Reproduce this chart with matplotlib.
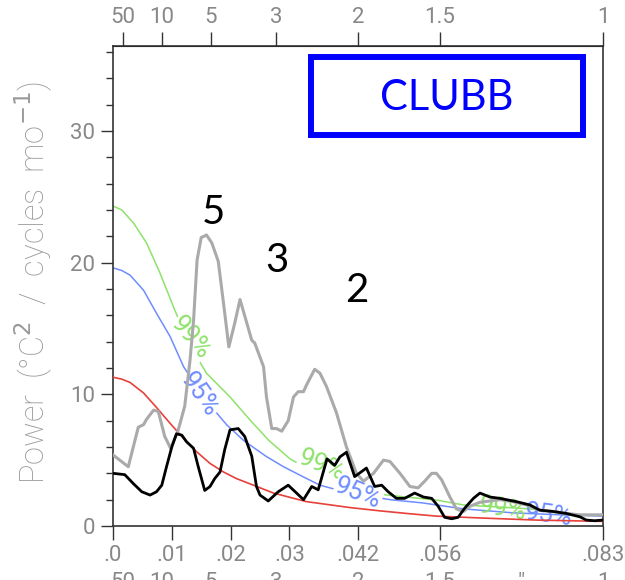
import matplotlib.pyplot as plt
from matplotlib.patches import Rectangle

# frequency (cycles/mo) and power readings
obs_freq = [0.0, 0.002, 0.0035, 0.0049, 0.0063, 0.0074, 0.0083, 0.0091, 0.01, 0.0108,
            0.0117, 0.0125, 0.0137, 0.0145, 0.0156, 0.0165, 0.0173, 0.0182, 0.019, 0.0199,
            0.0213, 0.0224, 0.0236, 0.0244, 0.025, 0.0264, 0.0281, 0.0298, 0.0324, 0.0338,
            0.0349, 0.0364, 0.0377, 0.0386, 0.0397, 0.0411, 0.0431, 0.0445, 0.0457, 0.0468,
            0.0482, 0.0496, 0.0513, 0.0528, 0.0542, 0.0553, 0.0564, 0.0576, 0.0587, 0.0598,
            0.0613, 0.0624, 0.0641, 0.0658, 0.0669, 0.0686, 0.0709, 0.0726, 0.0749, 0.0771,
            0.0794, 0.0805, 0.0819, 0.0833]
obs_power = [4.0, 3.9, 3.2, 2.6, 2.35, 2.6, 3.1, 4.5, 6.0, 7.0,
             6.9, 6.4, 5.9, 4.5, 2.7, 3.0, 3.6, 4.1, 5.8, 7.3,
             7.4, 6.8, 5.3, 3.0, 2.35, 1.9, 2.6, 3.1, 2.0, 3.0,
             2.75, 5.1, 4.6, 5.25, 5.6, 3.75, 4.4, 3.0, 3.1, 2.6,
             2.1, 2.1, 2.5, 2.2, 2.1, 1.5, 0.66, 0.55, 0.66, 1.35,
             2.1, 2.5, 2.2, 2.1, 2.0, 1.85, 1.6, 1.2, 1.1, 0.95,
             0.7, 0.45, 0.4, 0.45]

clubb_freq = [0.0, 0.0026, 0.0043, 0.0052, 0.0057, 0.0069, 0.0077, 0.0088, 0.0098, 0.0111,
              0.0122, 0.0131, 0.0137, 0.0143, 0.0150, 0.0159, 0.0168, 0.0179, 0.0188, 0.0197,
              0.0207, 0.0216, 0.0236, 0.0241, 0.0256, 0.0261, 0.027, 0.0278, 0.0287, 0.0298,
              0.0307, 0.0315, 0.0324, 0.0329, 0.0343, 0.0352, 0.0363, 0.038, 0.0397, 0.0414,
              0.0426, 0.0443, 0.046, 0.0471, 0.0488, 0.0505, 0.0519, 0.053, 0.0542, 0.055,
              0.0559, 0.0573, 0.0584, 0.0596, 0.0607, 0.0624, 0.0658, 0.068, 0.0703, 0.0726,
              0.0749, 0.0771, 0.0794, 0.0833]
clubb_power = [5.4, 4.5, 7.5, 7.7, 8.1, 8.8, 8.7, 6.8, 5.9, 7.3,
               9.1, 12.6, 15.6, 20.2, 21.9, 22.1, 21.5, 20.1, 16.9, 13.6,
               15.4, 17.2, 14.1, 13.9, 12.1, 9.8, 7.4, 7.4, 7.2, 8.0,
               9.8, 10.2, 10.2, 10.7, 11.9, 11.6, 10.6, 8.6, 6.0, 4.0,
               3.4, 4.0, 5.0, 4.9, 4.0, 3.0, 2.9, 3.4, 4.0, 4.0,
               3.5, 2.2, 1.3, 1.1, 1.5, 1.8, 2.0, 1.85, 1.6, 1.2,
               1.1, 0.95, 0.85, 0.85]

red_freq = [0.0, 0.0015, 0.0029, 0.0052, 0.0074, 0.0097, 0.012, 0.0142, 0.0165, 0.0188,
            0.021, 0.0233, 0.0273, 0.0329, 0.0403, 0.0454, 0.05, 0.055, 0.063, 0.072, 0.0833]
red_power = [11.3, 11.15, 10.9, 10.1, 9.0, 7.8, 6.65, 5.65, 4.75, 4.1,
             3.6, 3.2, 2.5, 1.85, 1.4, 1.15, 0.95, 0.75, 0.6, 0.45, 0.35]

c95_freq = [0.0, 0.0015, 0.0029, 0.0052, 0.0074, 0.0097, 0.012, 0.0155, 0.0193, 0.0222,
            0.026, 0.029, 0.0325, 0.0352, 0.0385, 0.0418, 0.0471, 0.0527, 0.0596, 0.068,
            0.076, 0.0833]
c95_power = [19.6, 19.4, 19.05, 17.9, 16.15, 14.4, 12.1, 9.7, 7.7, 6.5,
             5.3, 4.5, 3.7, 3.1, 2.7, 2.4, 2.0, 1.75, 1.3, 1.0,
             0.85, 0.75]

c99_freq = [0.0, 0.0015, 0.0035, 0.0057, 0.008, 0.0105, 0.013, 0.0159, 0.0199, 0.0233,
            0.0265, 0.0301, 0.035, 0.0409, 0.0465, 0.055, 0.0596, 0.0709, 0.0794, 0.0833]
c99_power = [24.3, 24.0, 23.0, 21.5, 19.2, 16.4, 13.8, 11.6, 9.8, 8.05,
             6.5, 5.1, 3.9, 2.9, 2.35, 1.97, 1.6, 1.3, 0.85, 0.8]

freq_ticks = [0.0, 0.01, 0.02, 0.03, 1 / 24, 1 / 18, 1 / 12]
freq_labels = ['.0', '.01', '.02', '.03', '.042', '.056', '.083']
period_years = [50, 10, 5, 3, 2, 1.5, 1]
period_labels = ['50', '10', '5', '3', '2', '1.5', '1']

gray_txt = '#888888'
green = '#8ee26a'
blue = '#6f8dff'
red = '#e8403a'
plt.rcParams['font.family'] = ['Roboto', 'DejaVu Sans']

fig = plt.figure(figsize=(6.25, 5.8), dpi=100)
ax = fig.add_axes([113 / 625, 54 / 580, 490 / 625, 480 / 580])

ax.plot(c99_freq, c99_power, color=green, lw=1.1, zorder=2)
ax.plot(c95_freq, c95_power, color=blue, lw=1.1, zorder=2)
ax.plot(red_freq, red_power, color=red, lw=1.2, zorder=4)
ax.plot(clubb_freq, clubb_power, color='#aaaaaa', lw=2.2, zorder=5)
ax.plot(obs_freq, obs_power, color='black', lw=2.0, zorder=6)

# curve labels along the significance lines
lab_kw = dict(fontsize=18.5, ha='center', va='center', rotation_mode='anchor')
box = dict(facecolor='white', edgecolor='none', pad=0.3)
ax.text(0.01326, 14.3, '99%', color=green, rotation=-50, bbox=box, zorder=3, **lab_kw)
ax.text(0.01462, 9.95, '95%', color=blue, rotation=-55, bbox=box, zorder=3, **lab_kw)
ax.text(0.03553, 4.63, '99%', color=green, rotation=-22, bbox=box, zorder=3, **lab_kw)
ax.text(0.04165, 2.45, '95%', color=blue, rotation=-22, bbox=box, zorder=3, **lab_kw)
ax.text(0.0663, 1.3, '99%', color=green, rotation=-10, zorder=3, **lab_kw)
ax.text(0.0741, 0.84, '95%', color=blue, rotation=-8, zorder=3, **lab_kw)

ax.set_xlim(0, 1 / 12)
ax.set_ylim(0, 36.45)
ax.set_xticks(freq_ticks, freq_labels)
ax.set_yticks([0, 10, 20, 30])
ax.set_yticks(range(0, 37, 2), minor=True)
ax.tick_params(axis='x', direction='out', length=10, width=1, color='#333333',
               labelsize=16, labelcolor=gray_txt, pad=4)
ax.tick_params(axis='y', which='major', direction='out', length=9, width=1,
               color='#333333', labelsize=16, labelcolor=gray_txt, pad=4)
ax.tick_params(axis='y', which='minor', direction='out', length=5, width=1, color='#333333')
for s in ax.spines.values():
    s.set_color('#333333')
    s.set_linewidth(1.2)

top = ax.secondary_xaxis('top')
top.set_xticks([1 / (12 * p) for p in period_years], period_labels)
top.tick_params(direction='out', length=10, width=1, color='#333333',
                labelsize=16, labelcolor=gray_txt, pad=3)

# second (period) row under the frequency labels, cut by the figure edge
for p, lab in zip(period_years, period_labels):
    x = 113 + (1 / (12 * p)) * 12 * 490
    fig.text(x / 625, 8 / 580, lab, fontsize=16, color=gray_txt, ha='center', va='top')
fig.text((113 + 490 / 1.2) / 625, 8 / 580, '"', fontsize=16, color=gray_txt,
         ha='center', va='top')

fig.text(34 / 625, 1 - 282 / 580, r'Power  (°C$^2$  /  cycles  mo$^{-1}$)', rotation=90,
         fontsize=23.5, color='#999999', weight='light', ha='center', va='center')

# period annotations
for lab, x, y in [('5', 213, 212), ('3', 277, 260), ('2', 357, 290)]:
    fig.text(x / 625, 1 - y / 580, lab, fontsize=29, family='Lato', color='black',
             ha='center', va='center')

fig.patches.append(Rectangle((311 / 625, 1 - 134.5 / 580), 272 / 625, 77.5 / 580,
                             transform=fig.transFigure, fill=False,
                             edgecolor='#0000ff', linewidth=4.3))
fig.text(447 / 625, 1 - 97.5 / 580, 'CLUBB', fontsize=30, family='Lato', color='#0000ff',
         ha='center', va='center')

fig.savefig('out.png', dpi=100)
